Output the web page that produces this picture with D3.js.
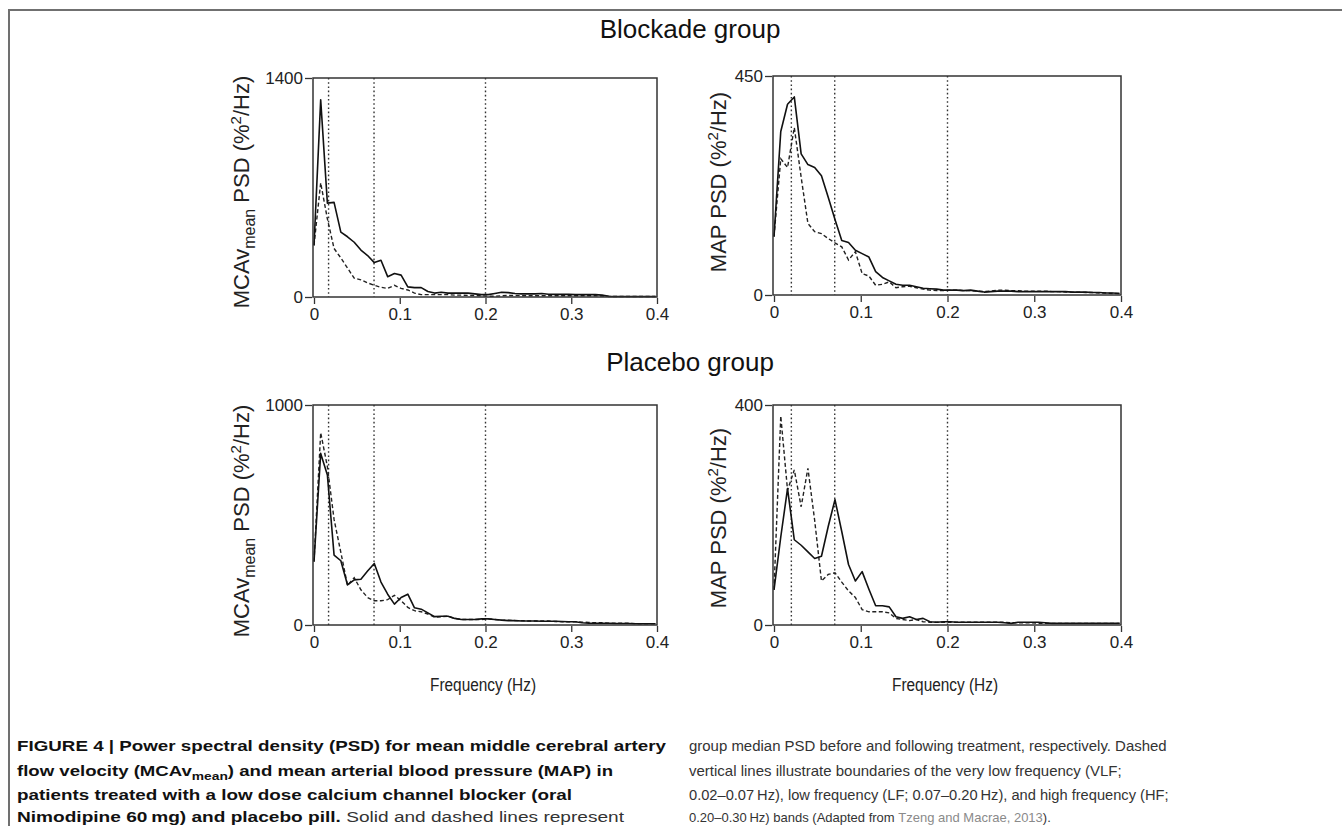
<!DOCTYPE html>
<html>
<head>
<meta charset="utf-8">
<script src="https://cdn.jsdelivr.net/npm/d3@7"></script>
<style>
  body { margin: 0; background: #fff; }
  svg { display: block; font-family: "Liberation Sans", Arial, Helvetica, sans-serif; }
</style>
</head>
<body>
<svg id="chart" width="1342" height="826"></svg>
<script>
// frequency bins (Hz)
const freq = [0, 0.0078, 0.0156, 0.0234, 0.0313, 0.0391, 0.0469, 0.0547, 0.0625, 0.0703,
  0.0781, 0.0859, 0.0938, 0.1016, 0.1094, 0.1172, 0.125, 0.1328, 0.1406, 0.1484,
  0.1563, 0.1641, 0.1719, 0.1797, 0.1875, 0.1953, 0.2031, 0.2109, 0.2188, 0.2266,
  0.2344, 0.2422, 0.25, 0.2578, 0.2656, 0.2734, 0.2813, 0.2891, 0.2969, 0.3047,
  0.3125, 0.3203, 0.3281, 0.3359, 0.3438, 0.3516, 0.3594, 0.3672, 0.375, 0.3828,
  0.3906, 0.3984];

// Blockade group, MCAv mean PSD (solid = before, dashed = after)
const blockMcaPre = [330, 1260, 600, 605, 415, 385, 350, 300, 265, 220,
  235, 130, 150, 140, 65, 60, 60, 35, 25, 30,
  25, 25, 25, 25, 20, 15, 15, 22, 30, 28,
  22, 20, 20, 20, 22, 18, 17, 17, 17, 15,
  15, 15, 15, 12, 4, 3, 3, 3, 3, 3,
  3, 3];
const blockMcaPost = [330, 730, 500, 310, 250, 185, 120, 110, 90, 75,
  62, 55, 75, 55, 45, 25, 15, 15, 15, 15,
  15, 12, 12, 10, 10, 8, 5, 5, 8, 10,
  10, 8, 8, 8, 8, 8, 8, 8, 8, 8,
  8, 8, 8, 6, 4, 3, 3, 3, 3, 3,
  3, 3];
// Blockade group, MAP PSD
const blockMapPre = [120, 336, 392, 407, 290, 268, 262, 245, 201, 155,
  112, 108, 92, 85, 78, 48, 36, 29, 22, 20,
  20, 17, 14, 13, 12, 10, 10, 10, 9, 10,
  8, 6, 7, 8, 8, 8, 7, 7, 7, 7,
  7, 7, 7, 7, 6, 6, 6, 5, 5, 4,
  4, 3];
const blockMapPost = [120, 280, 262, 344, 242, 147, 130, 126, 116, 107,
  99, 72, 89, 44, 39, 20, 22, 27, 15, 17,
  18, 15, 12, 10, 9, 9, 10, 10, 9, 9,
  8, 7, 8, 10, 10, 9, 9, 8, 8, 8,
  8, 7, 7, 6, 6, 6, 5, 5, 4, 4,
  3, 3];
// Placebo group, MCAv mean PSD
const placMcaPre = [288, 780, 682, 318, 292, 182, 205, 208, 245, 280,
  195, 140, 95, 125, 140, 78, 72, 55, 38, 40,
  40, 30, 25, 25, 25, 28, 28, 25, 22, 20,
  20, 18, 18, 18, 17, 17, 17, 16, 15, 15,
  10, 8, 8, 8, 8, 7, 7, 7, 6, 6,
  6, 6];
const placMcaPost = [288, 874, 720, 480, 330, 180, 215, 160, 125, 110,
  110, 115, 135, 110, 80, 65, 60, 50, 35, 38,
  40, 30, 25, 25, 25, 25, 28, 25, 22, 22,
  20, 20, 18, 18, 18, 18, 16, 15, 15, 15,
  13, 12, 10, 10, 8, 8, 8, 8, 6, 6,
  6, 6];
// Placebo group, MAP PSD
const placMapPre = [64, 160, 248, 155, 145, 133, 121, 125, 179, 228,
  170, 110, 80, 97, 65, 35, 35, 33, 15, 12,
  15, 10, 12, 6, 5, 6, 6, 5, 5, 5,
  5, 5, 5, 5, 4, 3, 5, 5, 5, 5,
  4, 3, 3, 3, 3, 3, 3, 3, 3, 3,
  3, 3];
const placMapPost = [64, 380, 245, 282, 215, 285, 190, 80, 92, 95,
  78, 62, 50, 28, 24, 24, 24, 22, 12, 10,
  8, 10, 6, 5, 5, 5, 5, 5, 5, 5,
  5, 5, 5, 5, 5, 4, 4, 4, 4, 3,
  3, 3, 3, 3, 3, 3, 3, 3, 3, 3,
  3, 3];

const yMaxes = [1400, 450, 1000, 400];
const xTicks = [0, 0.1, 0.2, 0.3, 0.4];
const bandsLeft = [0.017, 0.07, 0.2];
const bandsRight = [0.02, 0.07, 0.2];
const groupTitles = ["Blockade group", "Placebo group"];

const svg = d3.select("#chart");

// page frame (top + left rule)
svg.append("line").attr("x1", 8).attr("x2", 1342).attr("y1", 10).attr("y2", 10)
  .attr("stroke", "#707070").attr("stroke-width", 2);
svg.append("line").attr("x1", 9).attr("x2", 9).attr("y1", 10).attr("y2", 826)
  .attr("stroke", "#707070").attr("stroke-width", 2);

// group titles
svg.append("text").attr("x", 690).attr("y", 38).attr("text-anchor", "middle")
  .attr("font-size", 26).attr("fill", "#111").text(groupTitles[0]);
svg.append("text").attr("x", 690).attr("y", 371).attr("text-anchor", "middle")
  .attr("font-size", 26).attr("fill", "#111").text(groupTitles[1]);

const panels = [
  { left: 313, right: 657, top: 78, bottom: 297, yMax: yMaxes[0], pre: blockMcaPre, post: blockMcaPost, bands: bandsLeft, kind: "mca", labelX: 249, labelY: 192, xlab: false },
  { left: 773, right: 1121, top: 76, bottom: 295, yMax: yMaxes[1], pre: blockMapPre, post: blockMapPost, bands: bandsRight, kind: "map", labelX: 726, labelY: 182, xlab: false },
  { left: 313, right: 657, top: 405, bottom: 625, yMax: yMaxes[2], pre: placMcaPre, post: placMcaPost, bands: bandsLeft, kind: "mca", labelX: 249, labelY: 521, xlab: true },
  { left: 773, right: 1121, top: 405, bottom: 625, yMax: yMaxes[3], pre: placMapPre, post: placMapPost, bands: bandsRight, kind: "map", labelX: 726, labelY: 518, xlab: true }
];

panels.forEach(function (p) {
  var xs = d3.scaleLinear().domain([0, 0.4]).range([p.left + 1, p.right]);
  var ys = d3.scaleLinear().domain([0, p.yMax]).range([p.bottom, p.top]);
  var g = svg.append("g");

  // band boundaries
  g.selectAll(".band").data(p.bands).enter().append("line")
    .attr("x1", d => xs(d)).attr("x2", d => xs(d))
    .attr("y1", p.top).attr("y2", p.bottom)
    .attr("stroke", "#333").attr("stroke-width", 1.4)
    .attr("stroke-dasharray", "1.6,2.6");

  var line = d3.line().x((d, i) => xs(freq[i])).y(d => ys(d));

  g.append("path").datum(p.post).attr("d", line)
    .attr("fill", "none").attr("stroke", "#222").attr("stroke-width", 1.4)
    .attr("stroke-dasharray", "4,2.5");
  g.append("path").datum(p.pre).attr("d", line)
    .attr("fill", "none").attr("stroke", "#111").attr("stroke-width", 1.6)
    .attr("stroke-linejoin", "round");

  // frame
  g.append("rect").attr("x", p.left).attr("y", p.top)
    .attr("width", p.right - p.left).attr("height", p.bottom - p.top)
    .attr("fill", "none").attr("stroke", "#333").attr("stroke-width", 1.5);

  // axes
  var xa = g.append("g").attr("transform", "translate(0," + (p.bottom + 1) + ")")
    .call(d3.axisBottom(xs).tickValues(xTicks).tickSize(6).tickPadding(4)
      .tickFormat(d => d === 0 ? "0" : d3.format(".1f")(d)));
  var ya = g.append("g").attr("transform", "translate(" + (p.left - 1) + ",0)")
    .call(d3.axisLeft(ys).tickValues([0, p.yMax]).tickSize(7).tickPadding(2)
      .tickFormat(d3.format("d")));
  [xa, ya].forEach(function (a) {
    a.select(".domain").remove();
    a.selectAll(".tick line").attr("stroke", "#333").attr("stroke-width", 1.3);
    a.selectAll(".tick text").attr("fill", "#222").attr("font-size", 17)
      .style("font-family", "'Liberation Sans', Arial, sans-serif");
  });

  // y label
  var lab = svg.append("text")
    .attr("transform", "translate(" + p.labelX + "," + p.labelY + ") rotate(-90)")
    .attr("text-anchor", "middle").attr("font-size", 22).attr("fill", "#222");
  if (p.kind === "mca") {
    lab.append("tspan").text("MCAv");
    lab.append("tspan").attr("dy", 6).attr("font-size", 16).text("mean");
    lab.append("tspan").attr("dy", -6).text(" PSD (%");
  } else {
    lab.append("tspan").text("MAP PSD (%");
  }
  lab.append("tspan").attr("dy", -8).attr("font-size", 15).text("2");
  lab.append("tspan").attr("dy", 8).text("/Hz)");

  if (p.xlab) {
    svg.append("text").attr("x", (p.left + p.right) / 2 - 2).attr("y", 691)
      .attr("text-anchor", "middle").attr("font-size", 18).attr("fill", "#222")
      .attr("textLength", 106).attr("lengthAdjust", "spacingAndGlyphs")
      .text("Frequency (Hz)");
  }
});

// caption
const capLeft = [
  [{ t: "FIGURE 4 | Power spectral density (PSD) for mean middle cerebral artery", b: true }],
  [{ t: "flow velocity (MCAv", b: true }, { t: "mean", b: true, sub: true }, { t: ") and mean arterial blood pressure (MAP) in", b: true }],
  [{ t: "patients treated with a low dose calcium channel blocker (oral", b: true }],
  [{ t: "Nimodipine 60\u2009mg) and placebo pill.", b: true }, { t: " Solid and dashed lines represent", b: false }]
];
const capLeftWidths = [649, 596, 555, 607];
const capRight = [
  [{ t: "group median PSD before and following treatment, respectively. Dashed" }],
  [{ t: "vertical lines illustrate boundaries of the very low frequency (VLF;" }],
  [{ t: "0.02\u20130.07\u2009Hz), low frequency (LF; 0.07\u20130.20\u2009Hz), and high frequency (HF;" }],
  [{ t: "0.20\u20130.30\u2009Hz) bands (Adapted from " }, { t: "Tzeng and Macrae, 2013", grey: true }, { t: ")." }]
];
const capRightWidths = [478, 433, 480, 362];
const capY = [751, 776, 800, 822];

// fit each caption line to its column width: shrink the font when too wide,
// stretch the glyphs when too narrow
function caption(lines, widths, x) {
  lines.forEach(function (parts, i) {
    var nodes = parts.map(function (s) {
      return svg.append("text").attr("y", capY[i] + (s.sub ? 4 : 0))
        .attr("font-size", s.sub ? 11.5 : 15.5)
        .attr("font-weight", s.b ? "bold" : "normal")
        .attr("fill", s.grey ? "#8a8a8a" : (s.b ? "#111" : "#333"))
        .style("white-space", "pre")
        .text(s.t);
    });
    var natural = d3.sum(nodes, n => n.node().getComputedTextLength());
    var k = widths[i] / natural;
    var cx = x;
    nodes.forEach(function (n, j) {
      if (k < 1) {
        n.attr("font-size", (parts[j].sub ? 11.5 : 15.5) * k);
        n.attr("x", cx);
        cx += n.node().getComputedTextLength();
      } else {
        var w = n.node().getComputedTextLength() * k;
        n.attr("x", cx).attr("textLength", w).attr("lengthAdjust", "spacingAndGlyphs");
        cx += w;
      }
    });
  });
}
caption(capLeft, capLeftWidths, 17);
caption(capRight, capRightWidths, 689);
</script>
</body>
</html>
